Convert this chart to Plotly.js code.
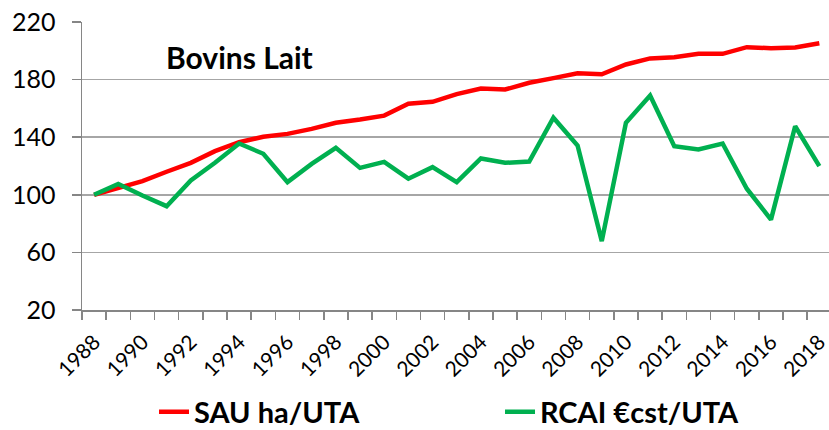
<!DOCTYPE html>
<html>
<head>
<meta charset="utf-8">
<script src="https://cdn.plot.ly/plotly-3.0.1.min.js"></script>
<style>html,body{margin:0;padding:0;background:#fff;}#chart{width:829px;height:430px;}</style>
</head>
<body>
<div id="chart"></div>
<script>
const years = [1988,1989,1990,1991,1992,1993,1994,1995,1996,1997,1998,1999,2000,2001,2002,2003,2004,2005,2006,2007,2008,2009,2010,2011,2012,2013,2014,2015,2016,2017,2018];
const sau = [100,104.9,109.5,116,122.2,130.3,136.5,140.3,142.3,145.8,150,152.3,155,163.2,164.6,169.9,173.8,173.1,177.8,181,184.4,183.7,190.5,194.7,195.6,197.9,197.9,202.5,201.8,202.3,205.3];
const rcai = [100,107.6,99.5,92.1,109.9,122.2,135.6,128.5,108.8,121.5,132.6,118.7,122.9,111.2,119.2,108.8,125.2,122.2,123.1,153.5,134.2,67.8,150,169,133.7,131.5,135.6,104.2,82.8,147.6,119.9];
const seriesNames = ["SAU ha/UTA", "RCAI €cst/UTA"];
const seriesColors = ["#FF0000", "#00B050"];
const tickYears = [1988,1990,1992,1994,1996,1998,2000,2002,2004,2006,2008,2010,2012,2014,2016,2018];
const yTicks = [20,60,100,140,180,220];
const chartTitle = "Bovins Lait";

const FONT = "Lato, 'Open Sans', sans-serif";

const traces = [
  {x: years, y: sau, name: seriesNames[0], mode: "lines", line: {color: seriesColors[0], width: 4.5, shape: "linear"}},
  {x: years, y: rcai, name: seriesNames[1], mode: "lines", line: {color: seriesColors[1], width: 4.5, shape: "linear"}}
];

const layout = {
  width: 829, height: 430,
  margin: {l: 82, r: 0, t: 22, b: 120, autoexpand: false},
  paper_bgcolor: "#fff", plot_bgcolor: "#fff",
  font: {family: FONT, color: "#000"},
  showlegend: true,
  legend: {
    orientation: "h", x: 0.0964, xanchor: "left", y: -0.265, yanchor: "top",
    font: {family: FONT, size: 29, color: "#000", weight: "bold"},
    entrywidth: 301, entrywidthmode: "pixels",
    borderwidth: 0, bgcolor: "rgba(0,0,0,0)"
  },
  xaxis: {
    type: "linear", range: [1987.5, 2018.4], fixedrange: true,
    tickmode: "array", tickvals: tickYears, ticktext: tickYears.map(String),
    tickangle: -45, ticks: "", ticklabelstandoff: 10, ticklabeloverflow: "allow",
    tickfont: {family: FONT, size: 21, color: "#000"},
    showgrid: false, zeroline: false,
    showline: true, linecolor: "#868686", linewidth: 1.5,
    minor: {tick0: 1987.5, dtick: 1, ticks: "outside", ticklen: 8, tickcolor: "#868686", tickwidth: 1.5, showgrid: false}
  },
  yaxis: {
    range: [20, 220], fixedrange: true,
    tickmode: "array", tickvals: yTicks,
    ticks: "outside", ticklen: 9, tickcolor: "#868686", tickwidth: 1.5,
    ticklabelstandoff: 11,
    tickfont: {family: FONT, size: 25, color: "#000"},
    showgrid: true, gridcolor: "#A6A6A6", gridwidth: 1.5,
    zeroline: false, showline: true, linecolor: "#868686", linewidth: 1.5
  },
  annotations: [{
    text: chartTitle, xref: "paper", yref: "paper", x: 0.2115, y: 0.88,
    xanchor: "center", yanchor: "middle", showarrow: false,
    font: {family: FONT, size: 30, color: "#000", weight: "bold"}
  }]
};

Plotly.newPlot("chart", traces, layout, {staticPlot: true, displayModeBar: false});
</script>
</body>
</html>
